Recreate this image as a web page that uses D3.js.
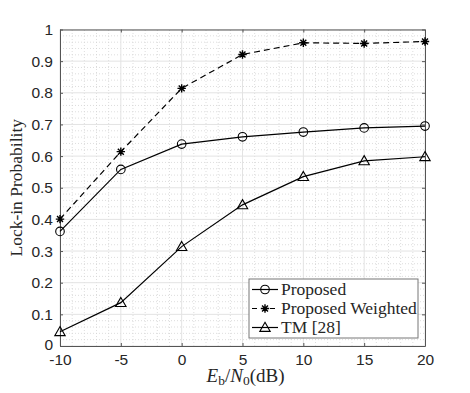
<!DOCTYPE html>
<html>
<head>
<meta charset="utf-8">
<script src="https://cdn.jsdelivr.net/npm/d3@7"></script>
<style>
  html, body { margin: 0; padding: 0; background: #fff; }
  svg text { fill: #262626; }
</style>
</head>
<body>
<div id="chart"></div>
<script>
const snr = [-10, -5, 0, 5, 10, 15, 20]
const proposed = [0.362, 0.558, 0.638, 0.661, 0.676, 0.689, 0.695]
const weighted = [0.401, 0.614, 0.814, 0.921, 0.958, 0.956, 0.962]
const tm = [0.045, 0.137, 0.314, 0.446, 0.535, 0.585, 0.598]
const xTicks = [-10, -5, 0, 5, 10, 15, 20]
const yTicks = [0, 0.1, 0.2, 0.3, 0.4, 0.5, 0.6, 0.7, 0.8, 0.9, 1]
const legendLabels = ['Proposed', 'Proposed Weighted', 'TM [28]']

const width = 470
const height = 393
const margin = { top: 29.5, right: 45, bottom: 47, left: 60 }
const axisColor = '#555'

const svg = d3.select('#chart').append('svg')
  .attr('width', width)
  .attr('height', height)

const x = d3.scaleLinear().domain([-10, 20]).range([margin.left, width - margin.right])
const y = d3.scaleLinear().domain([0, 1]).range([height - margin.bottom, margin.top])

const grid = svg.append('g')

// minor grid
const xMinor = d3.range(-10, 20.001, 1).filter(v => v % 5 !== 0)
const yMinor = d3.range(0, 50.001, 1).filter(v => v % 5 !== 0).map(v => v / 50)
grid.selectAll('.xmin').data(xMinor).join('line')
  .attr('x1', d => x(d)).attr('x2', d => x(d))
  .attr('y1', y(0)).attr('y2', y(1))
  .attr('stroke', '#d4d4d4').attr('stroke-width', 0.8)
  .attr('stroke-dasharray', '1,2')
grid.selectAll('.ymin').data(yMinor).join('line')
  .attr('x1', x(-10)).attr('x2', x(20))
  .attr('y1', d => y(d)).attr('y2', d => y(d))
  .attr('stroke', '#d4d4d4').attr('stroke-width', 0.8)
  .attr('stroke-dasharray', '1,2')

// major grid
grid.selectAll('.xmaj').data(xTicks).join('line')
  .attr('x1', d => x(d)).attr('x2', d => x(d))
  .attr('y1', y(0)).attr('y2', y(1))
  .attr('stroke', '#e3e3e3').attr('stroke-width', 1)
grid.selectAll('.ymaj').data(yTicks).join('line')
  .attr('x1', x(-10)).attr('x2', x(20))
  .attr('y1', d => y(d)).attr('y2', d => y(d))
  .attr('stroke', '#e3e3e3').attr('stroke-width', 1)

// axes
const tickFont = 'Liberation Sans, Arial, sans-serif'
const xAxis = svg.append('g')
  .attr('transform', `translate(0,${y(0)})`)
  .call(d3.axisBottom(x).tickValues(xTicks).tickSizeInner(-3).tickSizeOuter(0).tickPadding(8)
    .tickFormat(d => String(d)))
const yAxis = svg.append('g')
  .attr('transform', `translate(${x(-10)},0)`)
  .call(d3.axisLeft(y).tickValues(yTicks).tickSizeInner(-3).tickSizeOuter(0).tickPadding(7)
    .tickFormat(d => d === 0 || d === 1 ? String(d) : d.toFixed(1)))
const xTop = svg.append('g')
  .attr('transform', `translate(0,${y(1)})`)
  .call(d3.axisTop(x).tickValues(xTicks).tickSizeInner(-3).tickSizeOuter(0).tickFormat(''))
const yRight = svg.append('g')
  .attr('transform', `translate(${x(20)},0)`)
  .call(d3.axisRight(y).tickValues(yTicks).tickSizeInner(-3).tickSizeOuter(0).tickFormat(''))

for (const g of [xAxis, yAxis, xTop, yRight]) {
  g.select('.domain').attr('stroke', axisColor).attr('stroke-width', 1)
  g.selectAll('.tick line').attr('stroke', axisColor)
  g.selectAll('.tick text')
    .attr('font-family', tickFont)
    .attr('font-size', 15.5)
    .attr('fill', '#262626')
}
// the 0 label sits a touch above the axis, as in the reference
yAxis.selectAll('.tick text').filter(d => d === 0).attr('dy', '0.2em')

// series
const line = d3.line().x(d => x(d[0])).y(d => y(d[1]))
const series = [
  { name: legendLabels[0], values: proposed, dash: null, marker: 'circle' },
  { name: legendLabels[1], values: weighted, dash: '6,4', marker: 'star' },
  { name: legendLabels[2], values: tm, dash: null, marker: 'triangle' }
]

function drawMarker (g, type, cx, cy) {
  if (type === 'circle') {
    g.append('circle').attr('cx', cx).attr('cy', cy).attr('r', 4.3)
      .attr('fill', 'none').attr('stroke', '#000').attr('stroke-width', 1.1)
  } else if (type === 'triangle') {
    const s = 5.2
    g.append('path')
      .attr('d', `M${cx},${cy - s}L${cx + s},${cy + s * 0.75}L${cx - s},${cy + s * 0.75}Z`)
      .attr('fill', 'none').attr('stroke', '#000').attr('stroke-width', 1.1)
  } else {
    const r = 4.2
    const d = r * Math.SQRT1_2
    g.append('path')
      .attr('d', `M${cx - r},${cy}H${cx + r}M${cx},${cy - r}V${cy + r}` +
        `M${cx - d},${cy - d}L${cx + d},${cy + d}M${cx - d},${cy + d}L${cx + d},${cy - d}`)
      .attr('fill', 'none').attr('stroke', '#000').attr('stroke-width', 1.4)
  }
}

const plot = svg.append('g')
for (const s of series) {
  const pts = snr.map((v, i) => [v, s.values[i]])
  plot.append('path')
    .datum(pts)
    .attr('d', line)
    .attr('fill', 'none')
    .attr('stroke', '#000')
    .attr('stroke-width', 1.2)
    .attr('stroke-dasharray', s.dash)
  for (const p of pts) drawMarker(plot, s.marker, x(p[0]), y(p[1]))
}

// axis labels
const serif = 'Liberation Serif, Times New Roman, serif'
svg.append('text')
  .attr('transform', `translate(22,${(y(0) + y(1)) / 2}) rotate(-90)`)
  .attr('text-anchor', 'middle')
  .attr('font-family', serif)
  .attr('font-size', 17.5)
  .text('Lock-in Probability')

const xl = svg.append('text')
  .attr('x', (x(-10) + x(20)) / 2 + 3)
  .attr('y', 382)
  .attr('text-anchor', 'middle')
  .attr('font-family', serif)
  .attr('font-size', 19)
xl.append('tspan').attr('font-style', 'italic').text('E')
xl.append('tspan').attr('font-size', 13.5).attr('dy', 3).text('b')
xl.append('tspan').attr('dy', -3).text('/')
xl.append('tspan').attr('font-style', 'italic').text('N')
xl.append('tspan').attr('font-size', 13.5).attr('dy', 3).text('0')
xl.append('tspan').attr('dy', -3).text('(dB)')

// legend
const lg = svg.append('g').attr('transform', 'translate(249,279)')
lg.append('rect')
  .attr('width', 169).attr('height', 59)
  .attr('fill', '#fff').attr('stroke', '#777').attr('stroke-width', 1)
series.forEach((s, i) => {
  const cy = 10.5 + i * 19
  lg.append('line')
    .attr('x1', 3).attr('x2', 29)
    .attr('y1', cy).attr('y2', cy)
    .attr('stroke', '#000').attr('stroke-width', 1.2)
    .attr('stroke-dasharray', s.dash ? '5,4' : null)
  drawMarker(lg, s.marker, 16, cy)
  lg.append('text')
    .attr('x', 32).attr('y', cy + 5.5)
    .attr('font-family', serif)
    .attr('font-size', 17.5)
    .text(s.name)
})
</script>
</body>
</html>
